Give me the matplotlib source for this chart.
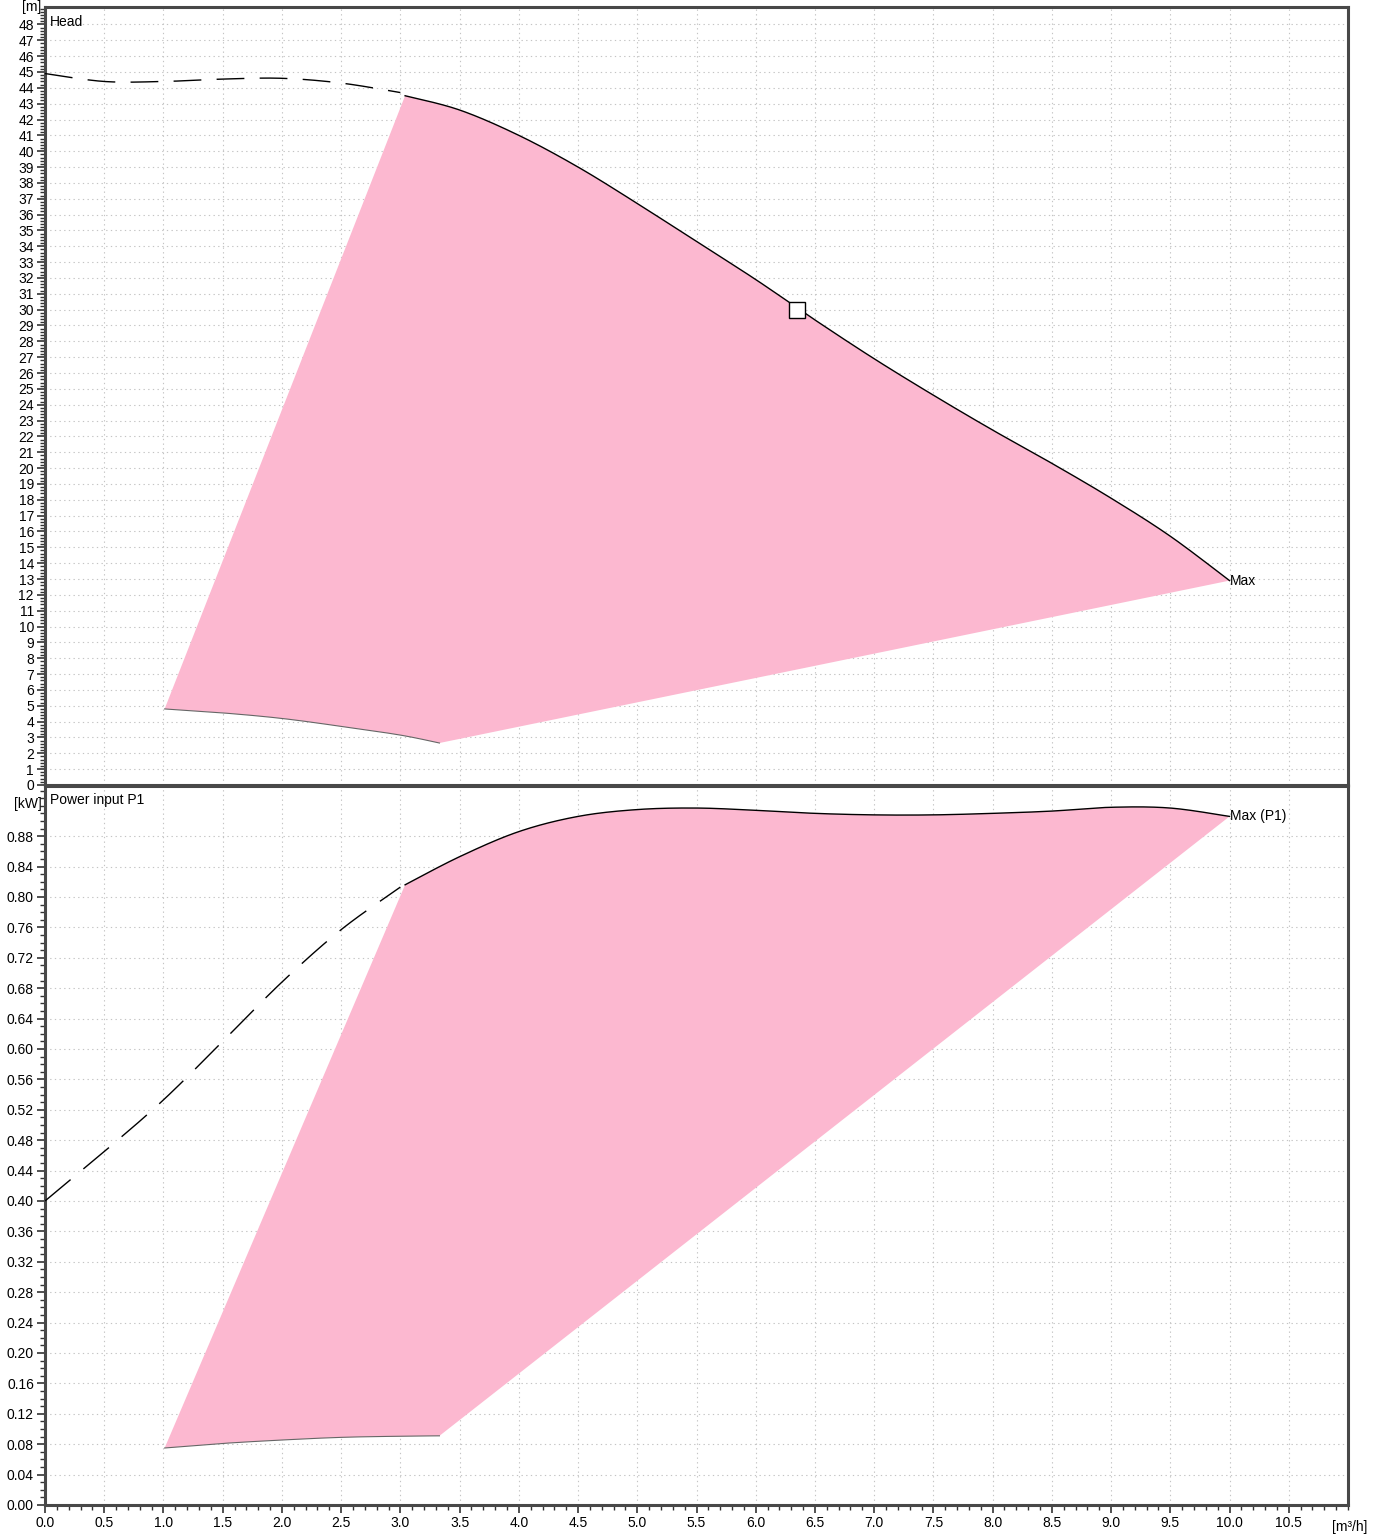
import matplotlib
matplotlib.use("Agg")
import matplotlib.pyplot as plt
from matplotlib.ticker import MultipleLocator, FormatStrFormatter
import numpy as np

plt.rcParams['font.family'] = ['Liberation Sans', 'DejaVu Sans']
plt.rcParams['font.size'] = 10

# ---- Head curve (m3/h, m)
head_dash_q = [0.0, 0.5, 1.0, 1.5, 2.0, 2.5, 3.0]
head_dash_h = [44.9, 44.4, 44.4, 44.55, 44.6, 44.3, 43.7]
head_q = [3.04, 3.5, 4.0, 4.5, 5.0, 5.5, 6.0, 6.5, 7.0, 7.5, 8.0, 8.5, 9.0, 9.5, 10.0]
head_h = [43.5, 42.6, 41.0, 39.0, 36.7, 34.3, 31.9, 29.35, 26.9, 24.6, 22.4, 20.3, 18.1, 15.7, 12.9]
head_min_q = [1.01, 1.5, 2.0, 2.5, 3.0, 3.33]
head_min_h = [4.8, 4.55, 4.2, 3.7, 3.15, 2.65]
duty_q = [6.35]
duty_h = [30.0]

# ---- Power curve (m3/h, kW)
p_dash_q = [0.0, 0.5, 1.0, 1.5, 2.0, 2.5, 3.0]
p_dash_p = [0.40, 0.465, 0.533, 0.610, 0.688, 0.757, 0.813]
p_q = [3.04, 3.5, 4.0, 4.5, 5.0, 5.5, 6.0, 6.5, 7.0, 7.5, 8.0, 8.5, 9.0, 9.5, 10.0]
p_p = [0.816, 0.853, 0.886, 0.906, 0.915, 0.917, 0.914, 0.910, 0.908, 0.908, 0.910, 0.913, 0.918, 0.917, 0.906]
p_min_q = [1.01, 1.5, 2.0, 2.5, 3.0, 3.33]
p_min_p = [0.075, 0.081, 0.0855, 0.089, 0.0905, 0.091]

pink = '#fcb8d0'
W, H = 1381, 1535
fig = plt.figure(figsize=(W/100, H/100), dpi=100)
L, R = 45/W, 1348/W
ax1 = fig.add_axes([L, 1-785/H, R-L, (785-7)/H])
ax2 = fig.add_axes([L, 1-1505/H, R-L, (1505-786)/H])

def smooth(xs, ys, per_seg=40):
    xs = np.asarray(xs, float); ys = np.asarray(ys, float)
    n = len(xs)
    out_x, out_y = [], []
    for i in range(n-1):
        p0 = max(i-1, 0); p3 = min(i+2, n-1)
        for u in np.linspace(0, 1, per_seg, endpoint=(i == n-2)):
            def cr(a):
                P0, P1, P2, P3 = a[p0], a[i], a[i+1], a[p3]
                return 0.5*((2*P1) + (-P0+P2)*u + (2*P0-5*P1+4*P2-P3)*u**2 + (-P0+3*P1-3*P2+P3)*u**3)
            out_x.append(cr(xs)); out_y.append(cr(ys))
    return np.array(out_x), np.array(out_y)

# Top panel
hx, hy = smooth(head_q, head_h)
mx, my = smooth(head_min_q, head_min_h)
ax1.fill(np.concatenate([hx, mx[::-1]]), np.concatenate([hy, my[::-1]]), color=pink, lw=0, zorder=2)
ax1.plot(mx, my, color='#666666', lw=0.8, zorder=3)
ax1.plot(hx, hy, color='black', lw=1.0, zorder=4)
dx, dy = smooth(head_dash_q, head_dash_h)
ax1.plot(dx, dy, color='black', lw=1.0, dashes=(20, 11), zorder=4)
ax1.plot(duty_q, duty_h, marker='s', ms=11, mfc='white', mec='black', mew=1.0, ls='none', zorder=5)
ax1.text(head_q[-1], head_h[-1], 'Max', ha='left', va='center', fontsize=10, zorder=6)

# Bottom panel
px_, py_ = smooth(p_q, p_p)
pmx, pmy = smooth(p_min_q, p_min_p)
ax2.fill(np.concatenate([px_, pmx[::-1]]), np.concatenate([py_, pmy[::-1]]), color=pink, lw=0, zorder=2)
ax2.plot(pmx, pmy, color='#666666', lw=0.8, zorder=3)
ax2.plot(px_, py_, color='black', lw=1.0, zorder=4)
pdx, pdy = smooth(p_dash_q, p_dash_p)
ax2.plot(pdx, pdy, color='black', lw=1.0, dashes=(24, 12), zorder=4)
ax2.text(p_q[-1], p_p[-1], 'Max (P1)', ha='left', va='center', fontsize=10, zorder=6)

for ax in (ax1, ax2):
    ax.set_xlim(0, 11)
    ax.set_xticks(np.arange(0, 11.0, 0.5))
    ax.xaxis.set_minor_locator(MultipleLocator(0.1))
    ax.grid(True, which='major', color='#c4c4c4', ls=(0, (1.2, 3.0)), lw=0.8, zorder=0)
    for s in ax.spines.values():
        s.set_color('#484848')
        s.set_linewidth(2.2)
    ax.tick_params(which='major', length=6, width=1.2, color='#333333', labelsize=10, pad=2)
    ax.tick_params(which='minor', length=3.5, width=1.0, color='#333333')

ax1.set_ylim(0, 49.1)
ax1.set_yticks(np.arange(0, 49, 1))
ax1.yaxis.set_minor_locator(MultipleLocator(0.2))
ax1.tick_params(axis='x', which='both', bottom=False, labelbottom=False)
ax1.text(0.004, 0.990, 'Head', transform=ax1.transAxes, ha='left', va='top', fontsize=10)
ax1.text(-0.0025, 1.0, '[m]', transform=ax1.transAxes, ha='right', va='center', fontsize=10)

ax2.set_ylim(0, 0.946)
ax2.set_yticks(np.arange(0, 0.90, 0.04))
ax2.yaxis.set_minor_locator(MultipleLocator(0.01))
ax2.yaxis.set_major_formatter(FormatStrFormatter('%.2f'))
ax2.xaxis.set_major_formatter(FormatStrFormatter('%.1f'))
ax2.text(0.004, 0.990, 'Power input P1', transform=ax2.transAxes, ha='left', va='top', fontsize=10)
ax2.text(-0.0025, 0.975, '[kW]', transform=ax2.transAxes, ha='right', va='center', fontsize=10)
ax2.text(1.0 - 0.012, -0.031, '[m³/h]', transform=ax2.transAxes, ha='left', va='center', fontsize=10)

fig.savefig('out.png', dpi=100)
